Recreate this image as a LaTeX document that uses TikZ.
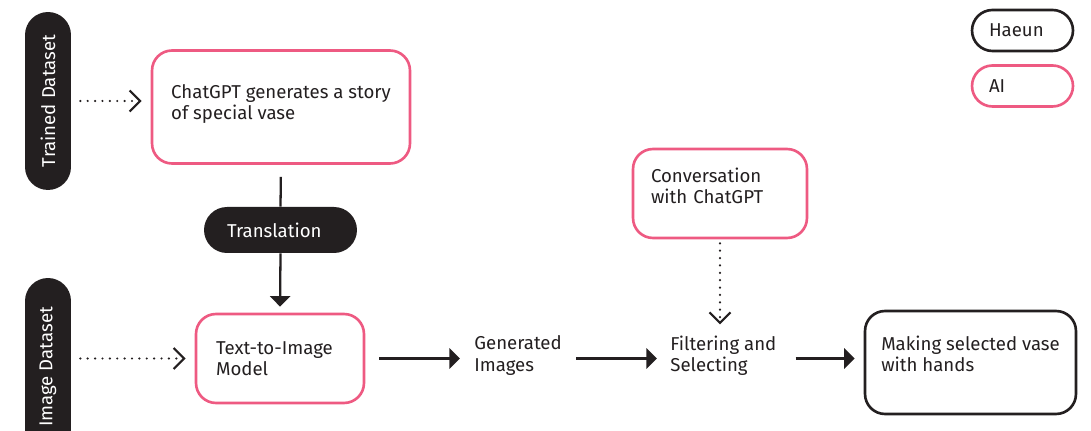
\documentclass[tikz,border=0pt]{standalone}
\usepackage{fontspec}
\setmainfont{Fira Sans}
\usetikzlibrary{arrows.meta}
\definecolor{aipink}{HTML}{EE5A82}
\definecolor{inkblack}{HTML}{231F20}

\tikzset{
  aibox/.style={draw=aipink, line width=1.5pt, rounded corners=0.4cm, align=left, inner ysep=0pt},
  haeunbox/.style={draw=inkblack, line width=1.5pt, rounded corners=0.4cm, align=left, inner ysep=0pt},
  pill/.style={fill=inkblack, text=white, rounded corners=0.46cm, minimum height=0.92cm, inner ysep=0pt},
  legendpill/.style={line width=1.5pt, rounded corners=0.41cm, minimum height=0.82cm, inner xsep=0.34cm,
    inner ysep=0pt, text width=1.34cm, align=left},
  plain/.style={align=left, inner sep=0pt},
  dotarrow/.style={line width=1.4pt, inkblack, dash pattern=on 0pt off 4.2pt, line cap=round,
    -{Straight Barb[length=6pt,width=12pt,line width=1.2pt]}},
  solidarrow/.style={line width=1.3pt, inkblack, -{Triangle[length=6pt,width=11.5pt]}}
}

\begin{document}
\begin{tikzpicture}[x=0.02cm, y=-0.02cm, font=\fontsize{10.6}{12}\selectfont, text=inkblack]
  \useasboundingbox (0,0) rectangle (1091,431);

  % datasets
  \node[pill, rotate=90, minimum width=3.56cm] (trained) at (48,101) {Trained Dataset};
  \node[pill, rotate=90, minimum width=3.56cm] (image) at (48,367) {Image Dataset};

  % boxes
  \node[aibox, minimum width=5.16cm, minimum height=2.26cm, text depth=0.2cm] (story) at (281,107)
    {ChatGPT generates a story\\of special vase};
  \node[pill, text width=2.14cm, inner xsep=0.46cm, align=left] (trans) at (280.5,230) {Translation};
  \node[aibox, text width=2.56cm, minimum width=3.36cm, minimum height=1.78cm] (tti) at (280,358.5)
    {Text-to-Image\\Model};
  \node[plain, anchor=west] (gen) at (474,355.5) {Generated\\Images};
  \node[plain, anchor=west] (filt) at (670,355.5) {Filtering and\\Selecting};
  \node[aibox, text width=2.76cm, minimum width=3.48cm, minimum height=1.78cm, text depth=0.72cm] (conv) at (720,193.5)
    {Conversation\\with ChatGPT};
  \node[haeunbox, minimum width=4.22cm, minimum height=2.06cm, text depth=0.35cm] (making) at (970.5,362.5)
    {Making selected vase\\with hands};

  % legend
  \node[legendpill, draw=inkblack, minimum width=2.02cm] (haeun) at (1022.5,30.5) {Haeun};
  \node[legendpill, draw=aipink, minimum width=2.02cm] (ai) at (1022.5,86) {AI};

  % connectors
  \draw[dotarrow, shorten <=0.18cm, shorten >=0.18cm] (trained.south) -- (trained.south -| story.west);
  \draw[dotarrow, shorten <=0.18cm, shorten >=0.18cm] (tti.west -| image.south) -- (tti.west);
  \draw[line width=1.3pt, inkblack, shorten <=0.24cm] (story.south) -- (trans.north);
  \draw[solidarrow, shorten >=0.12cm] (trans.south) -- (tti.north);
  \draw[solidarrow, shorten <=0.28cm, shorten >=0.28cm] (tti.east) -- (tti.east -| gen.west);
  \draw[solidarrow, shorten <=0.28cm, shorten >=0.26cm] (gen.east |- tti.east) -- (filt.west |- tti.east);
  \draw[solidarrow, shorten <=0.38cm, shorten >=0.18cm] (filt.east |- tti.east) -- (making.west |- tti.east);
  \draw[dotarrow, shorten <=0.08cm, shorten >=0.22cm] (conv.south) -- (conv.south |- filt.north);
\end{tikzpicture}
\end{document}
